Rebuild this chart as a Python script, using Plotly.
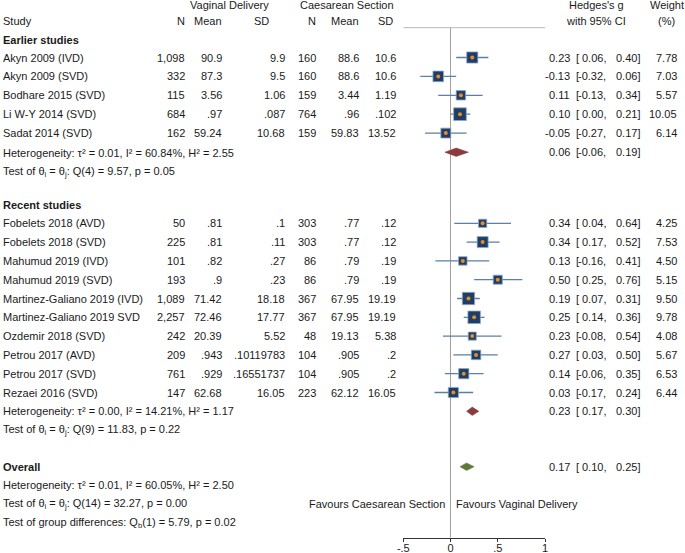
import plotly.graph_objects as go

# ---- data ----
early_study = ["Akyn 2009 (IVD)", "Akyn 2009 (SVD)", "Bodhare 2015 (SVD)",
               "Li W-Y 2014 (SVD)", "Sadat 2014 (SVD)"]
early_n_vd = ["1,098", "332", "115", "684", "162"]
early_mean_vd = ["90.9", "87.3", "3.56", ".97", "59.24"]
early_sd_vd = ["9.9", "9.5", "1.06", ".087", "10.68"]
early_n_cs = ["160", "160", "159", "764", "159"]
early_mean_cs = ["88.6", "88.6", "3.44", ".96", "59.83"]
early_sd_cs = ["10.6", "10.6", "1.19", ".102", "13.52"]
early_g = [0.23, -0.13, 0.11, 0.10, -0.05]
early_lo = [0.06, -0.32, -0.13, 0.00, -0.27]
early_hi = [0.40, 0.06, 0.34, 0.21, 0.17]
early_w = [7.78, 7.03, 5.57, 10.05, 6.14]

recent_study = ["Fobelets 2018 (AVD)", "Fobelets 2018 (SVD)", "Mahumud 2019 (IVD)",
                "Mahumud 2019 (SVD)", "Martinez-Galiano 2019 (IVD)",
                "Martinez-Galiano 2019 SVD", "Ozdemir 2018 (SVD)", "Petrou 2017 (AVD)",
                "Petrou 2017 (SVD)", "Rezaei 2016 (SVD)"]
recent_n_vd = ["50", "225", "101", "193", "1,089", "2,257", "242", "209", "761", "147"]
recent_mean_vd = [".81", ".81", ".82", ".9", "71.42", "72.46", "20.39", ".943", ".929", "62.68"]
recent_sd_vd = [".1", ".11", ".27", ".23", "18.18", "17.77", "5.52", ".10119783",
                ".16551737", "16.05"]
recent_n_cs = ["303", "303", "86", "86", "367", "367", "48", "104", "104", "223"]
recent_mean_cs = [".77", ".77", ".79", ".79", "67.95", "67.95", "19.13", ".905", ".905", "62.12"]
recent_sd_cs = [".12", ".12", ".19", ".19", "19.19", "19.19", "5.38", ".2", ".2", "16.05"]
recent_g = [0.34, 0.34, 0.13, 0.50, 0.19, 0.25, 0.23, 0.27, 0.14, 0.03]
recent_lo = [0.04, 0.17, -0.16, 0.25, 0.07, 0.14, -0.08, 0.03, -0.06, -0.17]
recent_hi = [0.64, 0.52, 0.41, 0.76, 0.31, 0.36, 0.54, 0.50, 0.35, 0.24]
recent_w = [4.25, 7.53, 4.50, 5.15, 9.50, 9.78, 4.08, 5.67, 6.53, 6.44]

# pooled estimates: earlier, recent, overall
pooled_g = [0.06, 0.23, 0.17]
pooled_lo = [-0.06, 0.17, 0.10]
pooled_hi = [0.19, 0.30, 0.25]

early_het = "Heterogeneity: τ² = 0.01, I² = 60.84%, H² = 2.55"
early_test = "Test of θ<sub>i</sub> = θ<sub>j</sub>: Q(4) = 9.57, p = 0.05"
recent_het = "Heterogeneity: τ² = 0.00, I² = 14.21%, H² = 1.17"
recent_test = "Test of θ<sub>i</sub> = θ<sub>j</sub>: Q(9) = 11.83, p = 0.22"
overall_het = "Heterogeneity: τ² = 0.01, I² = 60.05%, H² = 2.50"
overall_test = "Test of θ<sub>i</sub> = θ<sub>j</sub>: Q(14) = 32.27, p = 0.00"
group_test = "Test of group differences: Q<sub>b</sub>(1) = 5.79, p = 0.02"

tick_vals = [-0.5, 0, 0.5, 1]
tick_text = ["-.5", "0", ".5", "1"]

# ---- layout constants (pixels) ----
W, H = 685, 553
FONT = "Liberation Sans, Arial, sans-serif"
TXT = "#1a1a1a"
STEP = 18.9
early_y = [57.5 + STEP * i for i in range(len(early_study))]
recent_y = [223.3 + 18.8 * i for i in range(len(recent_study))]
pooled_y = [152.2, 411.3, 466.7]
AXIS_Y = 537.5

fig = go.Figure()
annotations = []


def txt(x, y, s, anchor="left", bold=False, size=11):
    if bold:
        s = "<b>" + s + "</b>"
    annotations.append(dict(x=x / W, y=y, xref="paper", yref="y", text=s,
                            showarrow=False, xanchor=anchor, yanchor="middle",
                            borderpad=0,
                            font=dict(family=FONT, size=size, color=TXT)))


# header
txt(229, 5, "Vaginal Delivery", "center")
txt(347, 5, "Caesarean Section", "center")
txt(596, 5, "Hedges's g", "center")
txt(666.5, 5, "Weight", "center")
txt(2, 20.5, "Study")
txt(186, 20.5, "N", "right")
txt(223, 20.5, "Mean", "right")
txt(261, 20.5, "SD", "center")
txt(317, 20.5, "N", "right")
txt(360, 20.5, "Mean", "right")
txt(385, 20.5, "SD", "center")
txt(596, 20.5, "with 95% CI", "center")
txt(666.5, 20.5, "(%)", "center")


def ci_text(y, g, lo, hi):
    txt(571, y, f"{g:.2f}", "right")
    txt(575, y, "[", "left")
    txt(607, y, f"{lo:.2f},", "right")
    txt(641, y, f"{hi:.2f}]", "right")


def study_block(ys, study, n_vd, mean_vd, sd_vd, n_cs, mean_cs, sd_cs, g, lo, hi, w):
    for i, y in enumerate(ys):
        txt(2, y, study[i])
        txt(186, y, n_vd[i], "right")
        txt(223, y, mean_vd[i], "right")
        txt(286, y, sd_vd[i], "right")
        txt(317, y, n_cs[i], "right")
        txt(360, y, mean_cs[i], "right")
        txt(397, y, sd_cs[i], "right")
        ci_text(y, g[i], lo[i], hi[i])
        txt(678, y, f"{w[i]:.2f}", "right")
    # CI whiskers
    xs, yy = [], []
    for i, y in enumerate(ys):
        xs += [lo[i], hi[i], None]
        yy += [y, y, None]
    fig.add_trace(go.Scatter(x=xs, y=yy, mode="lines",
                             line=dict(color="#5b7fa6", width=1.3),
                             hoverinfo="skip", showlegend=False))
    # weight boxes
    fig.add_trace(go.Scatter(x=g, y=ys, mode="markers",
                             marker=dict(symbol="square", color="#1d3e66", opacity=1,
                                         size=[4.0 * wi ** 0.5 for wi in w],
                                         line=dict(color="#92a8c2", width=0.8)),
                             showlegend=False))
    fig.add_trace(go.Scatter(x=g, y=ys, mode="markers",
                             marker=dict(symbol="circle", color="#e8892c", size=4,
                                         opacity=1),
                             showlegend=False))


def diamond(y, g, lo, hi, color, h=4.2):
    fig.add_trace(go.Scatter(x=[lo, g, hi, g, lo], y=[y, y - h, y, y + h, y],
                             mode="lines", fill="toself", fillcolor=color,
                             line=dict(color=color, width=0.5),
                             hoverinfo="skip", showlegend=False))
    ci_text(y, g, lo, hi)


# earlier studies
txt(2, 40, "Earlier studies", bold=True)
study_block(early_y, early_study, early_n_vd, early_mean_vd, early_sd_vd, early_n_cs,
            early_mean_cs, early_sd_cs, early_g, early_lo, early_hi, early_w)
diamond(pooled_y[0], pooled_g[0], pooled_lo[0], pooled_hi[0], "#8b3a3f")
txt(2, 152.5, early_het)
txt(2, 171.5, early_test)

# recent studies
txt(2, 205, "Recent studies", bold=True)
study_block(recent_y, recent_study, recent_n_vd, recent_mean_vd, recent_sd_vd, recent_n_cs,
            recent_mean_cs, recent_sd_cs, recent_g, recent_lo, recent_hi, recent_w)
diamond(pooled_y[1], pooled_g[1], pooled_lo[1], pooled_hi[1], "#8b3a3f")
txt(2, 411.3, recent_het)
txt(2, 430.1, recent_test)

# overall
txt(2, 466.7, "Overall", bold=True)
diamond(pooled_y[2], pooled_g[2], pooled_lo[2], pooled_hi[2], "#5e7a3a", h=3.8)
txt(2, 485, overall_het)
txt(2, 504, overall_test)
txt(2, 522.5, group_test)

txt(446, 504, "Favours Caesarean Section", "right")
txt(455, 504, "Favours Vaginal Delivery", "left")

fig.update_layout(
    width=W, height=H,
    margin=dict(l=0, r=0, t=0, b=0),
    paper_bgcolor="white", plot_bgcolor="white",
    annotations=annotations,
    hovermode=False,
    xaxis=dict(domain=[403.3 / W, 545 / W], range=[-0.5, 1], anchor="free",
               position=1 - AXIS_Y / H, automargin=False, showgrid=False, zeroline=False,
               showline=True, linecolor="#333333", linewidth=1,
               ticks="outside", ticklen=3, tickcolor="#333333",
               ticklabelstandoff=-3,
               tickvals=tick_vals, ticktext=tick_text,
               tickfont=dict(family=FONT, size=11, color=TXT)),
    yaxis=dict(domain=[0, 1], range=[H, 0], visible=False),
    shapes=[
        dict(type="line", xref="x", yref="y", x0=-0.5, x1=1, y0=27.7, y1=27.7,
             line=dict(color="#b8b8b8", width=1)),
        dict(type="line", xref="x", yref="y", x0=0, x1=0, y0=27.7, y1=AXIS_Y,
             line=dict(color="#a0a0a0", width=1), layer="below"),
    ],
)

fig.write_html("out.html", config={"displayModeBar": False, "staticPlot": True},
               post_script="document.body.style.margin='0px';"
                           "document.body.style.overflow='hidden';")
